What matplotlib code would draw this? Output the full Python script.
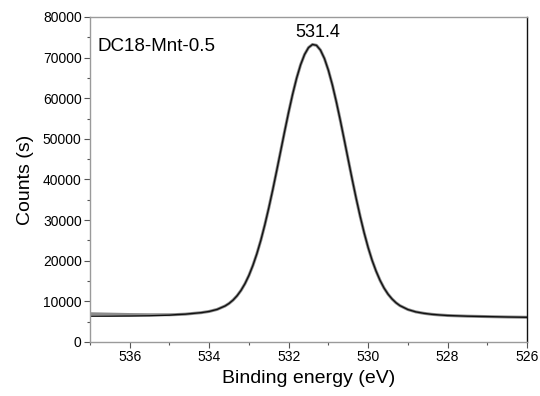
import matplotlib
matplotlib.use("Agg")
import matplotlib.pyplot as plt
from matplotlib.ticker import MultipleLocator

plt.rcParams['font.family'] = ['Liberation Sans', 'DejaVu Sans']

# Binding energy (eV)
energy = [537.0, 536.5, 536.0, 535.5, 535.0, 534.8, 534.6, 534.4, 534.2, 534.0,
          533.8, 533.6, 533.5, 533.4, 533.3, 533.2, 533.1, 533.0, 532.9, 532.8,
          532.7, 532.6, 532.5, 532.4, 532.3, 532.2, 532.1, 532.0, 531.9, 531.8,
          531.7, 531.6, 531.5, 531.4, 531.3, 531.2, 531.1, 531.0, 530.9, 530.8,
          530.7, 530.6, 530.5, 530.4, 530.3, 530.2, 530.1, 530.0, 529.9, 529.8,
          529.7, 529.6, 529.5, 529.4, 529.3, 529.2, 529.0, 528.8, 528.6, 528.4,
          528.2, 528.0, 527.5, 527.0, 526.5, 526.0]

# Measured counts (raw data, black)
counts_raw = [6350, 6350, 6380, 6450, 6600, 6760, 6850, 7040, 7220, 7520,
              8020, 8870, 9490, 10310, 11360, 12690, 14350, 16390, 18860, 21740,
              25060, 28850, 33020, 37490, 42220, 47060, 51910, 56610, 61000, 64930,
              68230, 70770, 72470, 73230, 73020, 71850, 69780, 66870, 63280, 59100,
              54540, 49720, 44820, 39970, 35300, 30910, 26880, 23260, 20110, 17450,
              15170, 13290, 11790, 10610, 9670, 8950, 7990, 7410, 7060, 6810,
              6650, 6520, 6350, 6250, 6150, 6080]

# Fitted envelope (grey)
counts_fit = [6950, 6850, 6750, 6700, 6700, 6760, 6850, 7040, 7220, 7520,
              8020, 8870, 9490, 10310, 11360, 12690, 14350, 16390, 18860, 21740,
              25060, 28850, 33020, 37490, 42220, 47060, 51910, 56610, 61000, 64930,
              68230, 70770, 72470, 73230, 73020, 71850, 69780, 66870, 63280, 59100,
              54540, 49720, 44820, 39970, 35300, 30910, 26880, 23260, 20110, 17450,
              15170, 13290, 11790, 10610, 9670, 8950, 7990, 7410, 7060, 6810,
              6650, 6520, 6350, 6250, 6150, 6080]

sample_label = "DC18-Mnt-0.5"
peak_label = "531.4"
peak_pos = 531.4

fig = plt.figure(figsize=(5.4, 3.96), dpi=100)
ax = fig.add_axes([0.1667, 0.1364, 0.8093, 0.8207])

ax.plot(energy, counts_fit, color='#8c8c8c', lw=2.2, solid_capstyle='round')
ax.plot(energy, counts_raw, color='#111111', lw=1.0)

ax.set_xlim(537, 526)
ax.set_ylim(0, 80000)
ax.xaxis.set_major_locator(MultipleLocator(2))
ax.xaxis.set_minor_locator(MultipleLocator(1))
ax.yaxis.set_major_locator(MultipleLocator(10000))
ax.yaxis.set_minor_locator(MultipleLocator(5000))

ax.tick_params(which='major', direction='out', length=4, width=0.8, color='#555555',
               labelsize=10, pad=2, top=False, right=False)
ax.tick_params(which='minor', direction='out', length=2.5, width=0.8, color='#555555',
               top=False, right=False)

for side in ['left', 'top', 'bottom']:
    ax.spines[side].set_color('#9a9a9a')
    ax.spines[side].set_linewidth(1.0)
ax.spines['right'].set_color('#111111')
ax.spines['right'].set_linewidth(1.0)

ax.set_xlabel("Binding energy (eV)", fontsize=14, labelpad=4)
ax.set_ylabel("Counts (s)", fontsize=14, labelpad=6)

ax.text(0.018, 0.908, sample_label, transform=ax.transAxes, fontsize=13.5,
        ha='left', va='center')
ax.text(peak_pos - 0.14, 76300, peak_label, fontsize=13, ha='center', va='center')

fig.savefig("out.png", dpi=100)
